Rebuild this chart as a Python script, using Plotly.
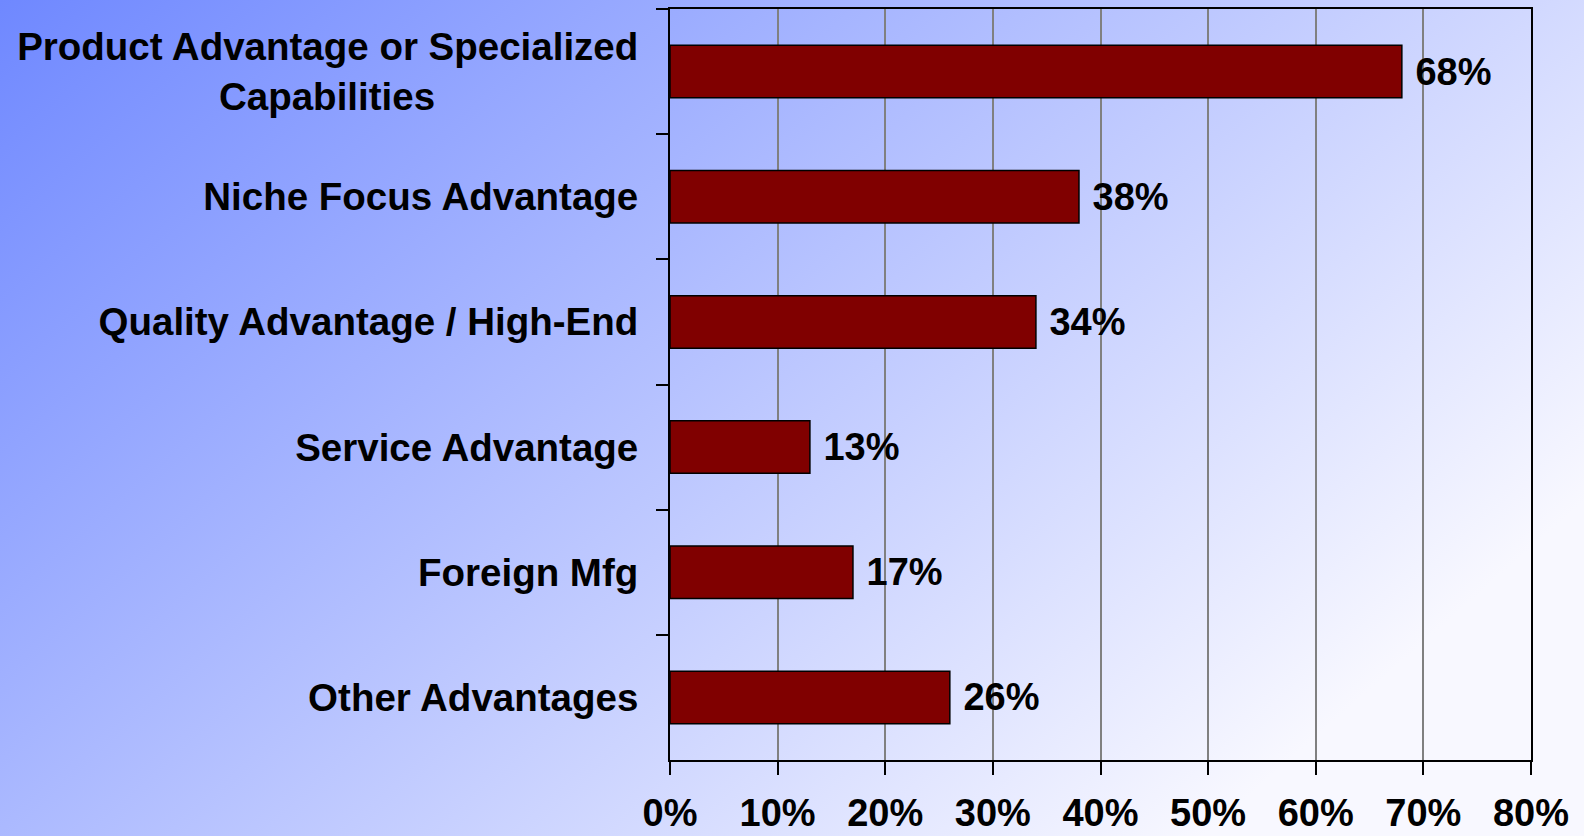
import plotly.graph_objects as go

categories = [
    "Product Advantage or Specialized<br>Capabilities" + "\u00a0" * 19,
    "Niche Focus Advantage",
    "Quality Advantage / High-End",
    "Service Advantage",
    "Foreign Mfg",
    "Other Advantages",
]
values = [68, 38, 34, 13, 17, 26]
x_ticks = [0, 10, 20, 30, 40, 50, 60, 70, 80]
x_tick_labels = [f"{v}%" for v in x_ticks]

FONT = "Liberation Sans, Arial, sans-serif"

# diagonal blue-to-white slide background as an inline svg
bg_svg = (
    "<svg xmlns='http://www.w3.org/2000/svg' width='1584' height='836' "
    "viewBox='0 0 100 100' preserveAspectRatio='none'>"
    "<defs><linearGradient id='g' x1='0' y1='0' x2='1' y2='0.6'>"
    "<stop offset='0' stop-color='#6F88FF'/>"
    "<stop offset='1' stop-color='#F8F8FF'/>"
    "</linearGradient></defs>"
    "<rect width='100' height='100' fill='url(#g)'/></svg>"
)
bg_uri = "data:image/svg+xml;utf8," + bg_svg.replace("#", "%23").replace("<", "%3C").replace(">", "%3E")

fig = go.Figure(
    go.Bar(
        x=values,
        y=categories,
        orientation="h",
        marker=dict(color="#800000", line=dict(color="black", width=1.5)),
        text=[f"\u00a0{v}%" for v in values],
        textposition="outside",
        constraintext="none",
        cliponaxis=False,
        textfont=dict(family=FONT, size=38, color="black", weight="bold"),
    )
)

fig.update_layout(
    width=1584,
    height=836,
    margin=dict(l=670, r=53, t=9, b=76),
    paper_bgcolor="#C8CEFF",
    plot_bgcolor="#C0C0C0",
    bargap=0.58,
    showlegend=False,
    font=dict(family=FONT, size=38, color="black", weight="bold"),
    images=[
        dict(
            source=bg_uri,
            xref="paper",
            yref="paper",
            x=-670 / 861,
            y=1 + 9 / 751,
            sizex=1584 / 861,
            sizey=836 / 751,
            xanchor="left",
            yanchor="top",
            sizing="stretch",
            layer="below",
        )
    ],
)

fig.update_xaxes(
    range=[0, 80],
    tickvals=x_ticks,
    ticktext=x_tick_labels,
    showgrid=True,
    gridcolor="#808080",
    gridwidth=1.5,
    zeroline=False,
    showline=True,
    linecolor="black",
    linewidth=2,
    mirror=True,
    ticks="outside",
    ticklen=13,
    tickwidth=2,
    tickcolor="black",
    ticklabelstandoff=5,
    automargin=False,
    tickfont=dict(family=FONT, size=38, weight="bold"),
)

fig.update_yaxes(
    autorange="reversed",
    showgrid=False,
    showline=True,
    linecolor="black",
    linewidth=2,
    mirror=True,
    ticks="outside",
    tickson="boundaries",
    ticklen=12,
    tickwidth=2,
    tickcolor="black",
    ticklabelstandoff=22,
    automargin=False,
    tickfont=dict(family=FONT, size=38.5, weight="bold"),
)

fig.write_html(
    "out.html",
    config={"displayModeBar": False},
    post_script="document.body.style.margin='0';",
)
